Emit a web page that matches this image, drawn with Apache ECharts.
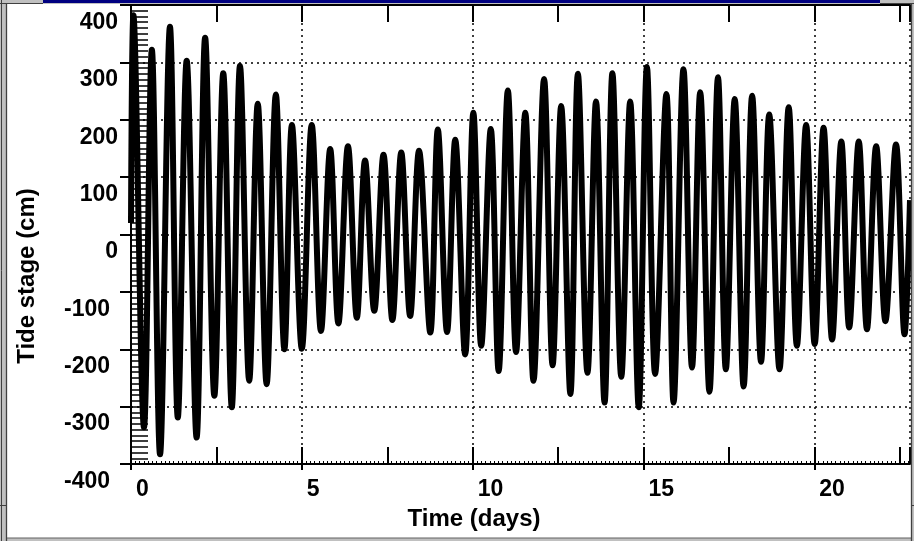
<!DOCTYPE html>
<html>
<head>
<meta charset="utf-8">
<script src="https://cdn.jsdelivr.net/npm/echarts@6/dist/echarts.min.js"></script>
<style>
  html, body { margin: 0; padding: 0; background: #fff; }
  #chart { width: 914px; height: 541px; }
</style>
</head>
<body>
<div id="chart"></div>
<script>
// Tide record: times (days) and stage (cm) at successive highs and lows
const timeDays = [
  0.00,
  0.07, 0.38, 0.61, 0.85, 1.14, 1.37, 1.63, 1.92, 2.17, 2.44,
  2.70, 2.95, 3.19, 3.46, 3.71, 3.97, 4.24, 4.49, 4.71, 5.00,
  5.29, 5.56, 5.83, 6.07, 6.35, 6.61, 6.85, 7.12, 7.39, 7.65,
  7.91, 8.17, 8.43, 8.76, 8.98, 9.25, 9.49, 9.78, 10.02, 10.25,
  10.53, 10.76, 11.03, 11.27, 11.54, 11.78, 12.09, 12.34, 12.59, 12.86,
  13.08, 13.36, 13.61, 13.86, 14.09, 14.35, 14.61, 14.86, 15.10, 15.34,
  15.67, 15.88, 16.17, 16.42, 16.66, 16.93, 17.18, 17.41, 17.67, 17.93,
  18.18, 18.44, 18.68, 18.98, 19.25, 19.49, 19.76, 20.01, 20.27, 20.52,
  20.79, 21.02, 21.30, 21.54, 21.81, 22.08, 22.39, 22.64,
  22.80
];
const tideCm = [
  20,
  382, -336, 322, -383, 362, -319, 303, -354, 343, -281,
  281, -301, 294, -255, 228, -261, 244, -200, 191, -199,
  191, -168, 149, -155, 154, -145, 129, -133, 139, -149,
  143, -142, 146, -171, 183, -170, 165, -209, 212, -194,
  184, -238, 251, -205, 212, -255, 271, -228, 224, -278,
  280, -241, 232, -293, 281, -248, 232, -301, 292, -243,
  245, -293, 288, -232, 248, -274, 274, -235, 236, -265,
  242, -222, 209, -235, 222, -194, 191, -191, 186, -183,
  162, -162, 162, -165, 154, -151, 157, -174,
  60
];
const yTickValues = [-400, -300, -200, -100, 0, 100, 200, 300, 400];
const xLabelDays = [0, 5, 10, 15, 20];
const yTitle = 'Tide stage (cm)';
const xTitle = 'Time (days)';

const FONT = '"Liberation Sans", Arial, sans-serif';
const chart = echarts.init(document.getElementById('chart'), null, { renderer: 'canvas' });

const seriesData = timeDays.map((t, i) => [t, tideCm[i]]);
const xMin = 0, xMax = 22.8;
const yMin = yTickValues[0], yMax = yTickValues[yTickValues.length - 1];
const blk = '#000';

const option = {
  animation: false,
  backgroundColor: '#fff',
  grid: { left: 131, right: 4, top: 5, bottom: 77, containLabel: false },
  xAxis: [
    {
      type: 'value', min: xMin, max: xMax, interval: 5, position: 'bottom',
      axisLine: { show: true, onZero: false, lineStyle: { color: blk, width: 2 } },
      axisTick: { show: true, inside: false, length: 6, lineStyle: { color: blk, width: 2 } },
      axisLabel: {
        show: true, showMaxLabel: false,
        formatter: v => (xLabelDays.indexOf(v) >= 0 ? String(v) : ''),
        align: 'left', padding: [0, 0, 0, 5], margin: 14,
        fontSize: 23, fontWeight: 'bold', color: blk, fontFamily: FONT
      },
      splitLine: { show: true, lineStyle: { color: blk, width: 1.5, type: [2, 4] } }
    },
    {
      type: 'value', min: xMin, max: xMax, interval: 2.5, position: 'bottom',
      axisLine: { show: false, onZero: false },
      axisTick: { show: true, inside: true, length: 17, lineStyle: { color: blk, width: 2 } },
      axisLabel: { show: false }, splitLine: { show: false }
    },
    {
      type: 'value', min: xMin, max: xMax, interval: 2.5, position: 'top',
      axisLine: { show: true, onZero: false, lineStyle: { color: blk, width: 2 } },
      axisTick: { show: true, inside: true, length: 17, lineStyle: { color: blk, width: 2 } },
      axisLabel: { show: false }, splitLine: { show: false }
    },
    {
      type: 'value', min: xMin, max: xMax, interval: 0.125, position: 'bottom',
      axisLine: { show: false, onZero: false },
      axisTick: { show: true, inside: true, length: 3, lineStyle: { color: blk, width: 1 } },
      axisLabel: { show: false }, splitLine: { show: false }
    }
  ],
  yAxis: [
    {
      type: 'value', min: yMin, max: yMax, interval: 100, position: 'left',
      axisLine: { show: true, onZero: false, lineStyle: { color: blk, width: 2 } },
      axisTick: { show: true, inside: false, length: 11, lineStyle: { color: blk, width: 2 } },
      axisLabel: {
        show: true, margin: 13, verticalAlign: 'top', padding: [6, 0, 0, 0],
        formatter: v => (v < 0 ? '{neg|' + v + '}' : '{pos|' + v + '}'),
        rich: {
          pos: { fontSize: 23, fontWeight: 'bold', color: blk, fontFamily: FONT, padding: [0, 0, 0, 0] },
          neg: { fontSize: 23, fontWeight: 'bold', color: blk, fontFamily: FONT, padding: [0, 8, 0, 0] }
        },
        fontSize: 23, fontWeight: 'bold', color: blk, fontFamily: FONT
      },
      splitLine: { show: true, lineStyle: { color: blk, width: 1.5, type: [2, 4] } }
    },
    {
      type: 'value', min: yMin, max: yMax, interval: 10, position: 'left',
      axisLine: { show: false, onZero: false },
      axisTick: { show: true, inside: true, length: 17, lineStyle: { color: blk, width: 1.5 } },
      axisLabel: { show: false }, splitLine: { show: false }
    }
  ],
  series: [
    {
      type: 'line', xAxisIndex: 0, yAxisIndex: 0,
      data: seriesData, showSymbol: false, clip: false,
      smooth: 0.35,
      lineStyle: { color: blk, width: 6, join: 'round', cap: 'butt' },
      z: 5
    }
  ],
  graphic: [
    // window frame
    { type: 'rect', z: 100, shape: { x: 0, y: 0, width: 914, height: 4 }, style: { fill: '#c0c0c0' } },
    { type: 'rect', z: 101, shape: { x: 43, y: 0, width: 837, height: 3 }, style: { fill: '#000080' } },
    { type: 'line', z: 101, shape: { x1: 0, y1: 3.5, x2: 43, y2: 3.5 }, style: { stroke: '#404040', lineWidth: 1 } },
    { type: 'line', z: 101, shape: { x1: 880, y1: 3.5, x2: 914, y2: 3.5 }, style: { stroke: '#404040', lineWidth: 1 } },
    { type: 'rect', z: 100, shape: { x: 0, y: 0, width: 7, height: 541 }, style: { fill: '#c0c0c0' } },
    { type: 'line', z: 101, shape: { x1: 1.5, y1: 0, x2: 1.5, y2: 541 }, style: { stroke: '#404040', lineWidth: 1 } },
    { type: 'line', z: 101, shape: { x1: 6.5, y1: 4, x2: 6.5, y2: 541 }, style: { stroke: '#404040', lineWidth: 1.3 } },
    { type: 'line', z: 101, shape: { x1: 0, y1: 505.5, x2: 7, y2: 505.5 }, style: { stroke: '#404040', lineWidth: 1 } },
    { type: 'rect', z: 100, shape: { x: 911, y: 0, width: 3, height: 541 }, style: { fill: '#c0c0c0' } },
    { type: 'line', z: 101, shape: { x1: 911.5, y1: 4, x2: 911.5, y2: 541 }, style: { stroke: '#404040', lineWidth: 1.3 } },
    { type: 'line', z: 101, shape: { x1: 911, y1: 505.5, x2: 914, y2: 505.5 }, style: { stroke: '#404040', lineWidth: 1 } },
    { type: 'rect', z: 100, shape: { x: 7, y: 538, width: 904, height: 3 }, style: { fill: '#c0c0c0' } },
    { type: 'line', z: 101, shape: { x1: 7, y1: 538, x2: 911, y2: 538 }, style: { stroke: '#606060', lineWidth: 1 } },
    // axis titles
    {
      type: 'text', z: 50, x: 27, y: 276, rotation: Math.PI / 2,
      style: { text: yTitle, fill: blk, font: 'bold 24px ' + FONT, textAlign: 'center', textVerticalAlign: 'middle' }
    },
    {
      type: 'text', z: 50, x: 474, y: 519,
      style: { text: xTitle, fill: blk, font: 'bold 24px ' + FONT, textAlign: 'center', textVerticalAlign: 'middle' }
    }
  ]
};
chart.setOption(option);
</script>
</body>
</html>
